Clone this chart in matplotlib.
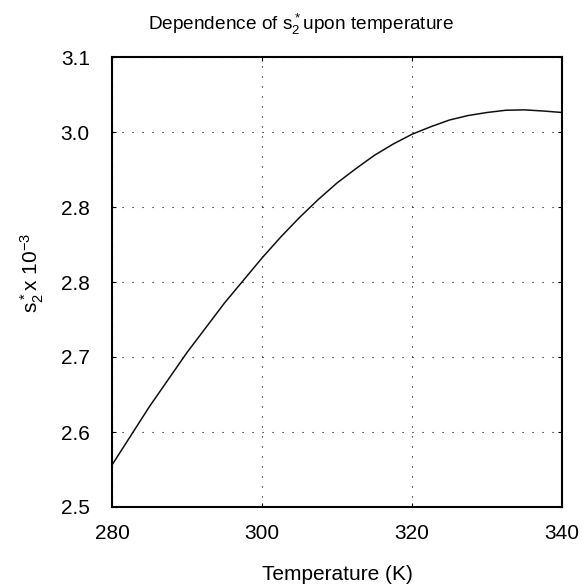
import numpy as np
import matplotlib
matplotlib.use("Agg")
import matplotlib.pyplot as plt

plt.rcParams['font.family'] = ['Liberation Sans', 'DejaVu Sans']
plt.rcParams['mathtext.default'] = 'regular'

# values
temperature = [280, 282.5, 285, 287.5, 290, 292.5, 295, 297.5, 300, 302.5,
               305, 307.5, 310, 312.5, 315, 317.5, 320, 322.5, 325, 327.5,
               330, 332.5, 335, 337.5, 340]
s2_star = [2.556, 2.595, 2.634, 2.670, 2.706, 2.739, 2.772, 2.802, 2.832, 2.860,
           2.886, 2.910, 2.932, 2.951, 2.969, 2.984, 2.997, 3.007, 3.016, 3.022,
           3.026, 3.029, 3.0295, 3.028, 3.026]

xticks = [280, 300, 320, 340]
yticks = [2.5, 2.6, 2.7, 2.8, 2.9, 3.0, 3.1]
ytick_labels = ['2.5', '2.6', '2.7', '2.8', '2.8', '3.0', '3.1']

fig = plt.figure(figsize=(5.84, 5.84), dpi=100)
ax = fig.add_axes([112/584, 1 - 507/584, 450/584, 450/584])

ax.plot(temperature, s2_star, color='#111111', linewidth=1.1)

ax.set_xlim(280, 340)
ax.set_ylim(2.5, 3.1)
ax.set_xticks(xticks)
ax.set_yticks(yticks)
ax.set_yticklabels(ytick_labels)

ax.grid(True, color='black', linestyle=(0, (1, 8)), linewidth=0.8)
ax.tick_params(direction='in', length=3, width=0.8, top=True, right=True,
               labelsize=15)
ax.tick_params(axis='x', pad=12)
ax.tick_params(axis='y', pad=16)
for s in ax.spines.values():
    s.set_linewidth(1.5)

# title sits a little left of the axes centre in the original
fig.text(301/584, 1 - 30/584, 'Dependence of s$_2^*$upon temperature',
         fontsize=13.7, ha='center', va='baseline')
ax.set_xlabel('Temperature (K)', fontsize=15, labelpad=16)
ax.set_ylabel('s$_2^*$x 10$^{-3}$', fontsize=15, labelpad=14)
ax.yaxis.set_label_coords(-0.147, 0.52)

fig.savefig('out.png', dpi=100)
